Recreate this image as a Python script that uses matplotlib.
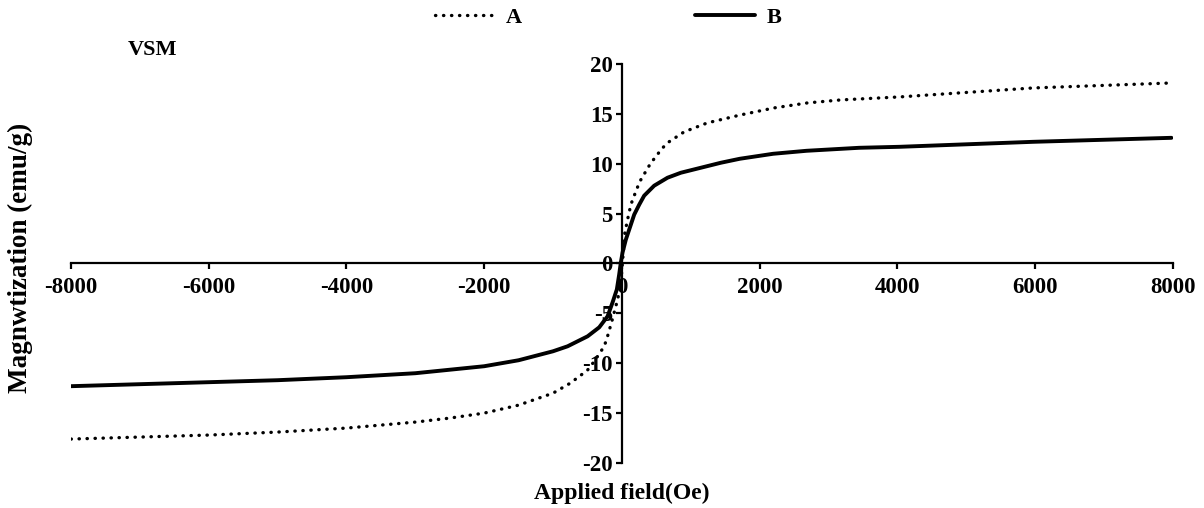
import matplotlib.pyplot as plt

plt.rcParams['font.family'] = ['Liberation Serif', 'DejaVu Serif']
plt.rcParams['font.weight'] = 'bold'
plt.rcParams['axes.unicode_minus'] = False

# sample A (dotted) - applied field (Oe) vs magnetization (emu/g)
field_a = [-8000, -7000, -6000, -5000, -4000, -3000, -2500, -2000, -1500, -1000,
           -750, -500, -400, -256, -208, -150, -111, -73, -39, -15,
           44, 68, 92, 121, 155, 203, 252, 300, 363, 421, 494, 566, 663,
           905, 1243, 1728, 2212, 2696, 3180, 4036, 5974, 7982]
mag_a = [-17.6, -17.4, -17.2, -16.9, -16.5, -15.9, -15.5, -15.0, -14.2, -13.0,
         -12.0, -10.7, -9.8, -8.3, -7.3, -5.9, -4.9, -3.9, -2.9, -1.9,
         3.1, 3.9, 4.7, 5.6, 6.4, 7.2, 8.1, 8.7, 9.4, 10.1, 10.7, 11.4, 12.1,
         13.2, 14.1, 14.9, 15.6, 16.1, 16.4, 16.7, 17.6, 18.1]

# sample B (solid)
field_b = [-8000, -7000, -6000, -5000, -4000, -3000, -2000, -1500, -1000, -788,
           -498, -329, -208, -135, -73, -39, -15, 10, 58, 121, 179, 252,
           324, 469, 663, 857, 1147, 1437, 1713, 2197, 2682, 3446, 4036,
           5974, 7982]
mag_b = [-12.3, -12.1, -11.9, -11.7, -11.4, -11.0, -10.3, -9.7, -8.8, -8.3,
         -7.3, -6.4, -5.3, -3.9, -2.6, -1.1, 0.1, 1.1, 2.4, 3.7, 4.9, 5.9,
         6.8, 7.8, 8.6, 9.1, 9.6, 10.1, 10.5, 11.0, 11.3, 11.6, 11.7,
         12.2, 12.6]

xticks = [-8000, -6000, -4000, -2000, 0, 2000, 4000, 6000, 8000]
yticks = [-20, -15, -10, -5, 0, 5, 10, 15, 20]

fig = plt.figure(figsize=(12.04, 5.08), dpi=100)
ax = fig.add_axes([0.059, 0.0886, 0.915, 0.7854])

ax.plot(field_a, mag_a, color='black', lw=2.4, linestyle=(0, (0.1, 2.3)),
        dash_capstyle='round', label='A')
ax.plot(field_b, mag_b, color='black', lw=2.8, solid_capstyle='round',
        solid_joinstyle='round', label='B')

ax.set_xlim(-8000, 8000)
ax.set_ylim(-20, 20)
ax.set_xticks(xticks)
ax.set_yticks(yticks)

# axes crossing at the origin
ax.spines['left'].set_position(('data', 0))
ax.spines['bottom'].set_position(('data', 0))
ax.spines['right'].set_visible(False)
ax.spines['top'].set_visible(False)
for s in ['left', 'bottom']:
    ax.spines[s].set_linewidth(1.6)
ax.tick_params(axis='both', direction='out', width=1.6, length=4.5, labelsize=16.5)
ax.tick_params(axis='x', pad=5)
ax.tick_params(axis='y', pad=2)

fig.text(622 / 1204, 1 - 493 / 508, 'Applied field(Oe)', fontsize=17,
         fontweight='bold', ha='center', va='center')
fig.text(20 / 1204, 1 - 258 / 508, 'Magnwtization (emu/g)', fontsize=19.5,
         fontweight='bold', ha='center', va='center', rotation=90)
fig.text(153 / 1204, 1 - 50 / 508, 'VSM', fontsize=16, fontweight='bold',
         ha='center', va='center')

fig.legend(loc='center', bbox_to_anchor=(608 / 1204, 1 - 18 / 508), ncol=2,
           frameon=False, fontsize=16, handlelength=2.7, columnspacing=7.8,
           handletextpad=0.5, borderpad=0)

fig.savefig('out.png', dpi=100)
